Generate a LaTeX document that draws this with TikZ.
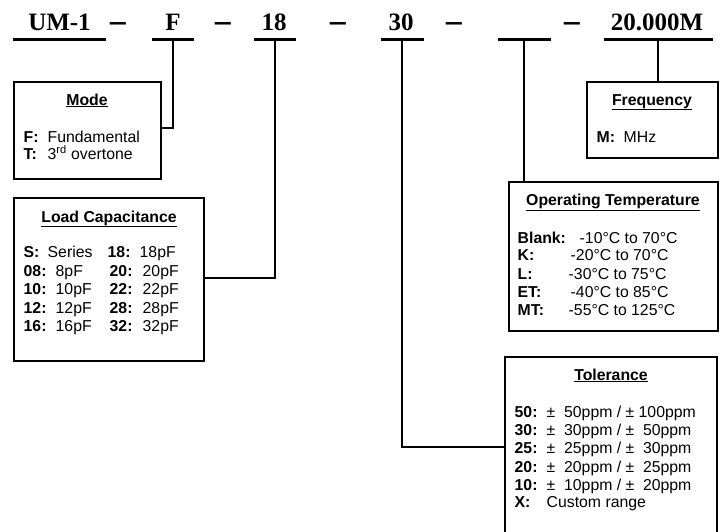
\documentclass[tikz,border=0pt]{standalone}
\usepackage{fontspec}
\setmainfont{Liberation Sans}
\newfontfamily\tms{Liberation Serif}
\newcommand{\atx}[2]{\rlap{\hspace*{#1pt}#2}}
\newcommand{\ttlul}[1]{\underline{#1}}
\begin{document}
\begin{tikzpicture}[x=1pt,y=-1pt,
  code/.style={font=\tms\fontsize{25}{25}\selectfont\bfseries, anchor=base, inner sep=0},
  dsh/.style={font=\fontsize{25}{25}\selectfont\bfseries, anchor=base, inner sep=0},
  ubar/.style={fill=black, inner sep=0, minimum height=3pt, minimum width=#1pt},
  box/.style={draw, line width=2.4pt, rectangle, inner sep=0},
  conn/.style={line width=1.7pt},
  ttl/.style={font=\fontsize{15.8}{18}\selectfont\bfseries, anchor=base, inner sep=0},
  txt/.style={font=\fontsize{15.8}{18}\selectfont, anchor=base west, inner sep=0}]
\useasboundingbox (0,0) rectangle (720,531);

% code line
\node[code] (cUM) at (59.5,30) {UM-1};
\node[code] (cF) at (173,30) {F};
\node[code] (c18) at (274,30) {18};
\node[code] (c30) at (401,30) {30};
\node[code] (cM) at (657,30) {20.000M};
\node[dsh] (d1) at (118,30) {\scalebox{1.3}[1]{–}};
\node[dsh] (d2) at (223,30) {\scalebox{1.3}[1]{–}};
\node[dsh] (d3) at (338,30) {\scalebox{1.3}[1]{–}};
\node[dsh] (d4) at (454,30) {\scalebox{1.3}[1]{–}};
\node[dsh] (d5) at (572,30) {\scalebox{1.3}[1]{–}};

\node[ubar=93] (bUM) at (59.5,39) {};
\node[ubar=42] (bF) at (173,39) {};
\node[ubar=42] (b18) at (275,39) {};
\node[ubar=43] (b30) at (402,39) {};
\node[ubar=53] (bB) at (524,39) {};
\node[ubar=109] (bM) at (658,39) {};

% boxes
\node[box, minimum width=147pt, minimum height=97pt] (mode) at (87.5,130.5) {};
\node[box, minimum width=190pt, minimum height=163pt] (load) at (109,279.5) {};
\node[box, minimum width=131pt, minimum height=76pt] (freq) at (652.5,120) {};
\node[box, minimum width=209pt, minimum height=149pt] (temp) at (613.5,256.5) {};
\node[box, minimum width=212pt, minimum height=188pt] (tol) at (611,451) {};

% connectors
\draw[conn] (bF.south) |- ([yshift=2.5pt]mode.east);
\draw[conn] (b18.south) |- ([yshift=1.5pt]load.east);
\draw[conn] (b30.south) |- ([yshift=4pt]tol.west);
\draw[conn] (bB.south) -- (bB.south |- temp.north);
\draw[conn] (bM.south) -- (bM.south |- freq.north);

% Mode
\node[ttl] (tMode) at (87,105) {\ttlul{Mode}};
\node[txt] (m1) at (23,142) {\atx{0}{\textbf{F:}}\atx{24}{Fundamental}};
\node[txt] (m2) at (23,159) {\atx{0}{\textbf{T:}}\atx{24}{3\textsuperscript{rd} overtone}};

% Load capacitance
\node[ttl] (tLoad) at (109,222) {\ttlul{Load Capacitance}};
\node[txt] (l1) at (23,257) {\atx{0}{\textbf{S:}}\atx{24}{Series}\atx{84}{\textbf{18:}}\atx{116}{18pF}};
\node[txt] (l2) at (23,276) {\atx{0}{\textbf{08:}}\atx{32}{8pF}\atx{86}{\textbf{20:}}\atx{119}{20pF}};
\node[txt] (l3) at (23,294) {\atx{0}{\textbf{10:}}\atx{32}{10pF}\atx{86}{\textbf{22:}}\atx{119}{22pF}};
\node[txt] (l4) at (23,313) {\atx{0}{\textbf{12:}}\atx{32}{12pF}\atx{86}{\textbf{28:}}\atx{119}{28pF}};
\node[txt] (l5) at (23,331) {\atx{0}{\textbf{16:}}\atx{32}{16pF}\atx{86}{\textbf{32:}}\atx{119}{32pF}};

% Frequency
\node[ttl] (tFreq) at (652,105) {\ttlul{Frequency}};
\node[txt] (f1) at (596,142) {\atx{0}{\textbf{M:}}\atx{27}{MHz}};

% Operating temperature
\node[ttl] (tTemp) at (613,205) {\ttlul{Operating Temperature}};
\node[txt] (o1) at (517,243) {\atx{0}{\textbf{Blank:}}\atx{62}{-10°C to 70°C}};
\node[txt] (o2) at (517,260) {\atx{0}{\textbf{K:}}\atx{53}{-20°C to 70°C}};
\node[txt] (o3) at (517,279) {\atx{0}{\textbf{L:}}\atx{51}{-30°C to 75°C}};
\node[txt] (o4) at (517,297) {\atx{0}{\textbf{ET:}}\atx{53}{-40°C to 85°C}};
\node[txt] (o5) at (517,315) {\atx{0}{\textbf{MT:}}\atx{51}{-55°C to 125°C}};

% Tolerance
\node[ttl] (tTol) at (611,380) {\ttlul{Tolerance}};
\node[txt] (t1) at (514,417) {\atx{0}{\textbf{50:}}\atx{32}{±~~50ppm / ±~100ppm}};
\node[txt] (t2) at (514,435) {\atx{0}{\textbf{30:}}\atx{32}{±~~30ppm / ±~~50ppm}};
\node[txt] (t3) at (514,453) {\atx{0}{\textbf{25:}}\atx{32}{±~~25ppm / ±~~30ppm}};
\node[txt] (t4) at (514,472) {\atx{0}{\textbf{20:}}\atx{32}{±~~20ppm / ±~~25ppm}};
\node[txt] (t5) at (514,490) {\atx{0}{\textbf{10:}}\atx{32}{±~~10ppm / ±~~20ppm}};
\node[txt] (t6) at (514,507) {\atx{0}{\textbf{X:}}\atx{32}{Custom range}};
\end{tikzpicture}
\end{document}
